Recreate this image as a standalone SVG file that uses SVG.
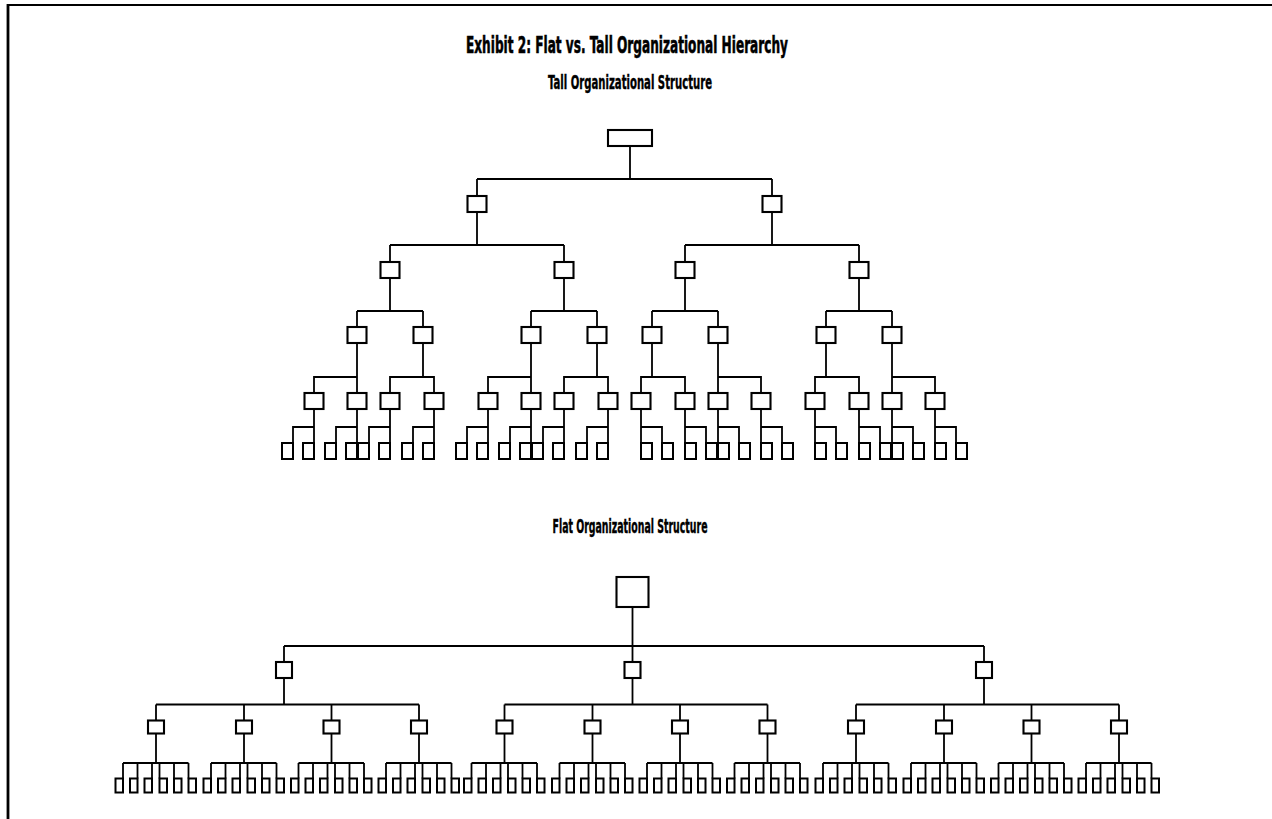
<svg xmlns="http://www.w3.org/2000/svg" width="1272" height="819" viewBox="0 0 1272 819">
<style>
  .frame { stroke: #000; fill: none; }
  .box { fill: #fff; stroke: #000; stroke-width: 2.1; }
  .leaf { fill: #fff; stroke: #000; stroke-width: 2; }
  .link { fill: none; stroke: #000; stroke-width: 1.8; stroke-linejoin: miter; }
  .title { font-family: "Liberation Sans Narrow", "DejaVu Sans Condensed", "Liberation Sans", sans-serif; font-weight: 700; fill: #000; stroke: #000; text-anchor: middle; }
</style>
<rect x="0" y="0" width="1272" height="819" fill="#fff"/>

<!-- page frame: open on the right and bottom -->
<g id="frame">
  <line class="frame" x1="7" y1="5" x2="1272" y2="5" stroke-width="2.2"/>
  <line class="frame" x1="8" y1="4" x2="8" y2="819" stroke-width="2.8"/>
</g>

<!-- headings -->
<g id="headings">
  <text class="title" x="627" y="53" font-size="23.5" stroke-width="0.6" textLength="322" lengthAdjust="spacingAndGlyphs">Exhibit 2: Flat vs. Tall Organizational Hierarchy</text>
  <text class="title" x="630" y="89" font-size="19.5" stroke-width="0.4" textLength="164" lengthAdjust="spacingAndGlyphs">Tall Organizational Structure</text>
  <text class="title" x="630" y="533" font-size="19.5" stroke-width="0.4" textLength="155" lengthAdjust="spacingAndGlyphs">Flat Organizational Structure</text>
</g>

<!-- ===== tall structure: connectors ===== -->
<g id="tall-connectors" class="link">
  <path d="M630 146V179 M477 179H772 M477 179V196 M772 179V196"/>
  <path d="M477 212V245 M390 245H564 M390 245V262 M564 245V262"/>
  <path d="M772 212V245 M685 245H859 M685 245V262 M859 245V262"/>
  <path d="M390 278V311 M357 311H423 M357 311V327 M423 311V327"/>
  <path d="M564 278V311 M531 311H597 M531 311V327 M597 311V327"/>
  <path d="M685 278V311 M652 311H718 M652 311V327 M718 311V327"/>
  <path d="M859 278V311 M826 311H892 M826 311V327 M892 311V327"/>
  <path d="M357 343V393 M314 393V377H357"/>
  <path d="M423 343V377 M390 393V377H434V393"/>
  <path d="M531 343V393 M488 393V377H531"/>
  <path d="M597 343V377 M564 393V377H608V393"/>
  <path d="M652 343V377 M641 393V377H685V393"/>
  <path d="M718 343V393 M718 377H761V393"/>
  <path d="M826 343V377 M815 393V377H859V393"/>
  <path d="M892 343V393 M892 377H935V393"/>
  <path d="M314 409V443 M293 443V427H314"/>
  <path d="M357 409V443 M336 443V427H357"/>
  <path d="M390 409V443 M369 443V427H390"/>
  <path d="M434 409V443 M413 443V427H434"/>
  <path d="M488 409V443 M467 443V427H488"/>
  <path d="M531 409V443 M510 443V427H531"/>
  <path d="M564 409V443 M543 443V427H564"/>
  <path d="M608 409V443 M587 443V427H608"/>
  <path d="M641 409V443 M662 443V427H641"/>
  <path d="M685 409V443 M706 443V427H685"/>
  <path d="M718 409V443 M739 443V427H718"/>
  <path d="M761 409V443 M782 443V427H761"/>
  <path d="M815 409V443 M836 443V427H815"/>
  <path d="M859 409V443 M880 443V427H859"/>
  <path d="M892 409V443 M913 443V427H892"/>
  <path d="M935 409V443 M956 443V427H935"/>
</g>

<!-- ===== tall structure: nodes ===== -->
<g id="t0"><rect class="box" x="608" y="130" width="44" height="16"/></g>
<g id="t1-1"><rect class="box" x="467.5" y="196" width="19" height="16"/></g>
<g id="t1-2"><rect class="box" x="762.5" y="196" width="19" height="16"/></g>
<g id="t2-1"><rect class="box" x="380.5" y="262" width="19" height="16"/></g>
<g id="t2-2"><rect class="box" x="554.5" y="262" width="19" height="16"/></g>
<g id="t2-3"><rect class="box" x="675.5" y="262" width="19" height="16"/></g>
<g id="t2-4"><rect class="box" x="849.5" y="262" width="19" height="16"/></g>
<g id="t3-1"><rect class="box" x="347.5" y="327" width="19" height="16"/></g>
<g id="t3-2"><rect class="box" x="413.5" y="327" width="19" height="16"/></g>
<g id="t3-3"><rect class="box" x="521.5" y="327" width="19" height="16"/></g>
<g id="t3-4"><rect class="box" x="587.5" y="327" width="19" height="16"/></g>
<g id="t3-5"><rect class="box" x="642.5" y="327" width="19" height="16"/></g>
<g id="t3-6"><rect class="box" x="708.5" y="327" width="19" height="16"/></g>
<g id="t3-7"><rect class="box" x="816.5" y="327" width="19" height="16"/></g>
<g id="t3-8"><rect class="box" x="882.5" y="327" width="19" height="16"/></g>
<g id="t4-1"><rect class="box" x="304.5" y="393" width="19" height="16"/></g>
<g id="t4-2"><rect class="box" x="347.5" y="393" width="19" height="16"/></g>
<g id="t4-3"><rect class="box" x="380.5" y="393" width="19" height="16"/></g>
<g id="t4-4"><rect class="box" x="424.5" y="393" width="19" height="16"/></g>
<g id="t4-5"><rect class="box" x="478.5" y="393" width="19" height="16"/></g>
<g id="t4-6"><rect class="box" x="521.5" y="393" width="19" height="16"/></g>
<g id="t4-7"><rect class="box" x="554.5" y="393" width="19" height="16"/></g>
<g id="t4-8"><rect class="box" x="598.5" y="393" width="19" height="16"/></g>
<g id="t4-9"><rect class="box" x="631.5" y="393" width="19" height="16"/></g>
<g id="t4-10"><rect class="box" x="675.5" y="393" width="19" height="16"/></g>
<g id="t4-11"><rect class="box" x="708.5" y="393" width="19" height="16"/></g>
<g id="t4-12"><rect class="box" x="751.5" y="393" width="19" height="16"/></g>
<g id="t4-13"><rect class="box" x="805.5" y="393" width="19" height="16"/></g>
<g id="t4-14"><rect class="box" x="849.5" y="393" width="19" height="16"/></g>
<g id="t4-15"><rect class="box" x="882.5" y="393" width="19" height="16"/></g>
<g id="t4-16"><rect class="box" x="925.5" y="393" width="19" height="16"/></g>
<g id="t5-1"><rect class="leaf" x="282" y="443" width="11" height="16"/></g>
<g id="t5-2"><rect class="leaf" x="303" y="443" width="11" height="16"/></g>
<g id="t5-3"><rect class="leaf" x="325" y="443" width="11" height="16"/></g>
<g id="t5-4"><rect class="leaf" x="346" y="443" width="11" height="16"/></g>
<g id="t5-5"><rect class="leaf" x="358" y="443" width="11" height="16"/></g>
<g id="t5-6"><rect class="leaf" x="379" y="443" width="11" height="16"/></g>
<g id="t5-7"><rect class="leaf" x="402" y="443" width="11" height="16"/></g>
<g id="t5-8"><rect class="leaf" x="423" y="443" width="11" height="16"/></g>
<g id="t5-9"><rect class="leaf" x="456" y="443" width="11" height="16"/></g>
<g id="t5-10"><rect class="leaf" x="477" y="443" width="11" height="16"/></g>
<g id="t5-11"><rect class="leaf" x="499" y="443" width="11" height="16"/></g>
<g id="t5-12"><rect class="leaf" x="520" y="443" width="11" height="16"/></g>
<g id="t5-13"><rect class="leaf" x="532" y="443" width="11" height="16"/></g>
<g id="t5-14"><rect class="leaf" x="553" y="443" width="11" height="16"/></g>
<g id="t5-15"><rect class="leaf" x="576" y="443" width="11" height="16"/></g>
<g id="t5-16"><rect class="leaf" x="597" y="443" width="11" height="16"/></g>
<g id="t5-17"><rect class="leaf" x="641" y="443" width="11" height="16"/></g>
<g id="t5-18"><rect class="leaf" x="662" y="443" width="11" height="16"/></g>
<g id="t5-19"><rect class="leaf" x="685" y="443" width="11" height="16"/></g>
<g id="t5-20"><rect class="leaf" x="706" y="443" width="11" height="16"/></g>
<g id="t5-21"><rect class="leaf" x="718" y="443" width="11" height="16"/></g>
<g id="t5-22"><rect class="leaf" x="739" y="443" width="11" height="16"/></g>
<g id="t5-23"><rect class="leaf" x="761" y="443" width="11" height="16"/></g>
<g id="t5-24"><rect class="leaf" x="782" y="443" width="11" height="16"/></g>
<g id="t5-25"><rect class="leaf" x="815" y="443" width="11" height="16"/></g>
<g id="t5-26"><rect class="leaf" x="836" y="443" width="11" height="16"/></g>
<g id="t5-27"><rect class="leaf" x="859" y="443" width="11" height="16"/></g>
<g id="t5-28"><rect class="leaf" x="880" y="443" width="11" height="16"/></g>
<g id="t5-29"><rect class="leaf" x="892" y="443" width="11" height="16"/></g>
<g id="t5-30"><rect class="leaf" x="913" y="443" width="11" height="16"/></g>
<g id="t5-31"><rect class="leaf" x="935" y="443" width="11" height="16"/></g>
<g id="t5-32"><rect class="leaf" x="956" y="443" width="11" height="16"/></g>

<!-- ===== flat structure: connectors ===== -->
<g id="flat-connectors" class="link">
  <path d="M632.5 607V646 M284 646H984 M284 646V662 M632.5 646V662 M984 646V662"/>
  <path d="M284 678V704.5 M156 704.5H419 M156 704.5V720.5 M244 704.5V720.5 M331.5 704.5V720.5 M419 704.5V720.5"/>
  <path d="M632.5 678V704.5 M504.5 704.5H767.5 M504.5 704.5V720.5 M592.5 704.5V720.5 M680 704.5V720.5 M767.5 704.5V720.5"/>
  <path d="M984 678V704.5 M856 704.5H1119 M856 704.5V720.5 M944 704.5V720.5 M1031.5 704.5V720.5 M1119 704.5V720.5"/>
  <path d="M156 733.5V763 M123 763H188.5 M123 763V778.5 M137.5 763V778.5 M152 763V778.5 M159.5 763V778.5 M174 763V778.5 M188.5 763V778.5"/>
  <path d="M244 733.5V763 M211 763H276.5 M211 763V778.5 M225.5 763V778.5 M240 763V778.5 M247.5 763V778.5 M262 763V778.5 M276.5 763V778.5"/>
  <path d="M331.5 733.5V763 M298.5 763H364 M298.5 763V778.5 M313 763V778.5 M327.5 763V778.5 M335 763V778.5 M349.5 763V778.5 M364 763V778.5"/>
  <path d="M419 733.5V763 M386 763H451.5 M386 763V778.5 M400.5 763V778.5 M415 763V778.5 M422.5 763V778.5 M437 763V778.5 M451.5 763V778.5"/>
  <path d="M504.5 733.5V763 M471.5 763H537 M471.5 763V778.5 M486 763V778.5 M500.5 763V778.5 M508 763V778.5 M522.5 763V778.5 M537 763V778.5"/>
  <path d="M592.5 733.5V763 M559.5 763H625 M559.5 763V778.5 M574 763V778.5 M588.5 763V778.5 M596 763V778.5 M610.5 763V778.5 M625 763V778.5"/>
  <path d="M680 733.5V763 M647 763H712.5 M647 763V778.5 M661.5 763V778.5 M676 763V778.5 M683.5 763V778.5 M698 763V778.5 M712.5 763V778.5"/>
  <path d="M767.5 733.5V763 M734.5 763H800 M734.5 763V778.5 M749 763V778.5 M763.5 763V778.5 M771 763V778.5 M785.5 763V778.5 M800 763V778.5"/>
  <path d="M856 733.5V763 M823 763H888.5 M823 763V778.5 M837.5 763V778.5 M852 763V778.5 M859.5 763V778.5 M874 763V778.5 M888.5 763V778.5"/>
  <path d="M944 733.5V763 M911 763H976.5 M911 763V778.5 M925.5 763V778.5 M940 763V778.5 M947.5 763V778.5 M962 763V778.5 M976.5 763V778.5"/>
  <path d="M1031.5 733.5V763 M998.5 763H1064 M998.5 763V778.5 M1013 763V778.5 M1027.5 763V778.5 M1035 763V778.5 M1049.5 763V778.5 M1064 763V778.5"/>
  <path d="M1119 733.5V763 M1086 763H1151.5 M1086 763V778.5 M1100.5 763V778.5 M1115 763V778.5 M1122.5 763V778.5 M1137 763V778.5 M1151.5 763V778.5"/>
</g>

<!-- ===== flat structure: nodes ===== -->
<g id="f0"><rect class="box" x="616.5" y="577" width="32" height="30"/></g>
<g id="f1-1"><rect class="box" x="276" y="662" width="16" height="16"/></g>
<g id="f1-2"><rect class="box" x="624.5" y="662" width="16" height="16"/></g>
<g id="f1-3"><rect class="box" x="976" y="662" width="16" height="16"/></g>
<g id="f2-1"><rect class="box" x="148" y="720.5" width="16" height="13"/></g>
<g id="f2-2"><rect class="box" x="236" y="720.5" width="16" height="13"/></g>
<g id="f2-3"><rect class="box" x="323.5" y="720.5" width="16" height="13"/></g>
<g id="f2-4"><rect class="box" x="411" y="720.5" width="16" height="13"/></g>
<g id="f2-5"><rect class="box" x="496.5" y="720.5" width="16" height="13"/></g>
<g id="f2-6"><rect class="box" x="584.5" y="720.5" width="16" height="13"/></g>
<g id="f2-7"><rect class="box" x="672" y="720.5" width="16" height="13"/></g>
<g id="f2-8"><rect class="box" x="759.5" y="720.5" width="16" height="13"/></g>
<g id="f2-9"><rect class="box" x="848" y="720.5" width="16" height="13"/></g>
<g id="f2-10"><rect class="box" x="936" y="720.5" width="16" height="13"/></g>
<g id="f2-11"><rect class="box" x="1023.5" y="720.5" width="16" height="13"/></g>
<g id="f2-12"><rect class="box" x="1111" y="720.5" width="16" height="13"/></g>

<g id="f3-1"><rect class="leaf" x="115.5" y="778.5" width="7.5" height="14"/></g>
<g id="f3-2"><rect class="leaf" x="130" y="778.5" width="7.5" height="14"/></g>
<g id="f3-3"><rect class="leaf" x="144.5" y="778.5" width="7.5" height="14"/></g>
<g id="f3-4"><rect class="leaf" x="159.5" y="778.5" width="7.5" height="14"/></g>
<g id="f3-5"><rect class="leaf" x="174" y="778.5" width="7.5" height="14"/></g>
<g id="f3-6"><rect class="leaf" x="188.5" y="778.5" width="7.5" height="14"/></g>
<g id="f3-7"><rect class="leaf" x="203.5" y="778.5" width="7.5" height="14"/></g>
<g id="f3-8"><rect class="leaf" x="218" y="778.5" width="7.5" height="14"/></g>
<g id="f3-9"><rect class="leaf" x="232.5" y="778.5" width="7.5" height="14"/></g>
<g id="f3-10"><rect class="leaf" x="247.5" y="778.5" width="7.5" height="14"/></g>
<g id="f3-11"><rect class="leaf" x="262" y="778.5" width="7.5" height="14"/></g>
<g id="f3-12"><rect class="leaf" x="276.5" y="778.5" width="7.5" height="14"/></g>
<g id="f3-13"><rect class="leaf" x="291" y="778.5" width="7.5" height="14"/></g>
<g id="f3-14"><rect class="leaf" x="305.5" y="778.5" width="7.5" height="14"/></g>
<g id="f3-15"><rect class="leaf" x="320" y="778.5" width="7.5" height="14"/></g>
<g id="f3-16"><rect class="leaf" x="335" y="778.5" width="7.5" height="14"/></g>
<g id="f3-17"><rect class="leaf" x="349.5" y="778.5" width="7.5" height="14"/></g>
<g id="f3-18"><rect class="leaf" x="364" y="778.5" width="7.5" height="14"/></g>
<g id="f3-19"><rect class="leaf" x="378.5" y="778.5" width="7.5" height="14"/></g>
<g id="f3-20"><rect class="leaf" x="393" y="778.5" width="7.5" height="14"/></g>
<g id="f3-21"><rect class="leaf" x="407.5" y="778.5" width="7.5" height="14"/></g>
<g id="f3-22"><rect class="leaf" x="422.5" y="778.5" width="7.5" height="14"/></g>
<g id="f3-23"><rect class="leaf" x="437" y="778.5" width="7.5" height="14"/></g>
<g id="f3-24"><rect class="leaf" x="451.5" y="778.5" width="7.5" height="14"/></g>
<g id="f3-25"><rect class="leaf" x="464" y="778.5" width="7.5" height="14"/></g>
<g id="f3-26"><rect class="leaf" x="478.5" y="778.5" width="7.5" height="14"/></g>
<g id="f3-27"><rect class="leaf" x="493" y="778.5" width="7.5" height="14"/></g>
<g id="f3-28"><rect class="leaf" x="508" y="778.5" width="7.5" height="14"/></g>
<g id="f3-29"><rect class="leaf" x="522.5" y="778.5" width="7.5" height="14"/></g>
<g id="f3-30"><rect class="leaf" x="537" y="778.5" width="7.5" height="14"/></g>
<g id="f3-31"><rect class="leaf" x="552" y="778.5" width="7.5" height="14"/></g>
<g id="f3-32"><rect class="leaf" x="566.5" y="778.5" width="7.5" height="14"/></g>
<g id="f3-33"><rect class="leaf" x="581" y="778.5" width="7.5" height="14"/></g>
<g id="f3-34"><rect class="leaf" x="596" y="778.5" width="7.5" height="14"/></g>
<g id="f3-35"><rect class="leaf" x="610.5" y="778.5" width="7.5" height="14"/></g>
<g id="f3-36"><rect class="leaf" x="625" y="778.5" width="7.5" height="14"/></g>
<g id="f3-37"><rect class="leaf" x="639.5" y="778.5" width="7.5" height="14"/></g>
<g id="f3-38"><rect class="leaf" x="654" y="778.5" width="7.5" height="14"/></g>
<g id="f3-39"><rect class="leaf" x="668.5" y="778.5" width="7.5" height="14"/></g>
<g id="f3-40"><rect class="leaf" x="683.5" y="778.5" width="7.5" height="14"/></g>
<g id="f3-41"><rect class="leaf" x="698" y="778.5" width="7.5" height="14"/></g>
<g id="f3-42"><rect class="leaf" x="712.5" y="778.5" width="7.5" height="14"/></g>
<g id="f3-43"><rect class="leaf" x="727" y="778.5" width="7.5" height="14"/></g>
<g id="f3-44"><rect class="leaf" x="741.5" y="778.5" width="7.5" height="14"/></g>
<g id="f3-45"><rect class="leaf" x="756" y="778.5" width="7.5" height="14"/></g>
<g id="f3-46"><rect class="leaf" x="771" y="778.5" width="7.5" height="14"/></g>
<g id="f3-47"><rect class="leaf" x="785.5" y="778.5" width="7.5" height="14"/></g>
<g id="f3-48"><rect class="leaf" x="800" y="778.5" width="7.5" height="14"/></g>
<g id="f3-49"><rect class="leaf" x="815.5" y="778.5" width="7.5" height="14"/></g>
<g id="f3-50"><rect class="leaf" x="830" y="778.5" width="7.5" height="14"/></g>
<g id="f3-51"><rect class="leaf" x="844.5" y="778.5" width="7.5" height="14"/></g>
<g id="f3-52"><rect class="leaf" x="859.5" y="778.5" width="7.5" height="14"/></g>
<g id="f3-53"><rect class="leaf" x="874" y="778.5" width="7.5" height="14"/></g>
<g id="f3-54"><rect class="leaf" x="888.5" y="778.5" width="7.5" height="14"/></g>
<g id="f3-55"><rect class="leaf" x="903.5" y="778.5" width="7.5" height="14"/></g>
<g id="f3-56"><rect class="leaf" x="918" y="778.5" width="7.5" height="14"/></g>
<g id="f3-57"><rect class="leaf" x="932.5" y="778.5" width="7.5" height="14"/></g>
<g id="f3-58"><rect class="leaf" x="947.5" y="778.5" width="7.5" height="14"/></g>
<g id="f3-59"><rect class="leaf" x="962" y="778.5" width="7.5" height="14"/></g>
<g id="f3-60"><rect class="leaf" x="976.5" y="778.5" width="7.5" height="14"/></g>
<g id="f3-61"><rect class="leaf" x="991" y="778.5" width="7.5" height="14"/></g>
<g id="f3-62"><rect class="leaf" x="1005.5" y="778.5" width="7.5" height="14"/></g>
<g id="f3-63"><rect class="leaf" x="1020" y="778.5" width="7.5" height="14"/></g>
<g id="f3-64"><rect class="leaf" x="1035" y="778.5" width="7.5" height="14"/></g>
<g id="f3-65"><rect class="leaf" x="1049.5" y="778.5" width="7.5" height="14"/></g>
<g id="f3-66"><rect class="leaf" x="1064" y="778.5" width="7.5" height="14"/></g>
<g id="f3-67"><rect class="leaf" x="1078.5" y="778.5" width="7.5" height="14"/></g>
<g id="f3-68"><rect class="leaf" x="1093" y="778.5" width="7.5" height="14"/></g>
<g id="f3-69"><rect class="leaf" x="1107.5" y="778.5" width="7.5" height="14"/></g>
<g id="f3-70"><rect class="leaf" x="1122.5" y="778.5" width="7.5" height="14"/></g>
<g id="f3-71"><rect class="leaf" x="1137" y="778.5" width="7.5" height="14"/></g>
<g id="f3-72"><rect class="leaf" x="1151.5" y="778.5" width="7.5" height="14"/></g>
</svg>
